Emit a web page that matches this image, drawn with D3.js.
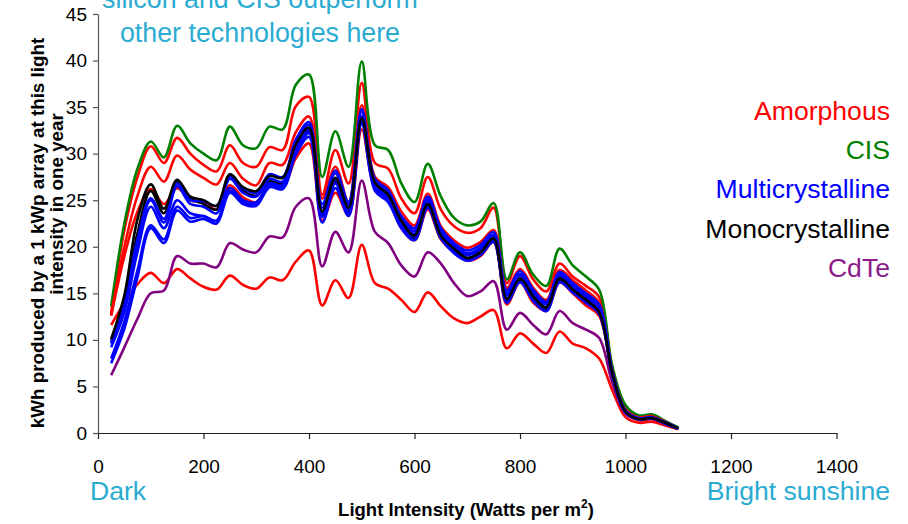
<!DOCTYPE html>
<html>
<head>
<meta charset="utf-8">
<script src="https://cdn.jsdelivr.net/npm/d3@7"></script>
<style>
  html, body { margin: 0; padding: 0; background: #fff; }
  svg { display: block; font-family: Arial, "Liberation Sans", sans-serif; }
</style>
</head>
<body>
<svg id="chart" width="908" height="524"></svg>
<script>
// ---------- data ----------
const intensity = [25,50,75,100,125,150,175,200,225,250,275,300,325,350,375,400,425,450,475,500,525,550,575,600,625,650,675,700,725,750,775,800,825,850,875,900,925,950,975,1000,1025,1050,1075,1100];

const amorphous1 = [12.9,21.8,27.5,30.8,29.0,31.7,30.0,28.8,28.1,30.9,29.0,28.6,30.7,30.4,35.1,36.1,25.6,30.4,26.8,37.6,29.0,28.4,25.2,23.6,27.5,24.0,22.2,21.5,22.0,24.2,16.1,19.0,16.5,15.2,18.2,16.8,15.8,14.6,6.9,2.7,1.8,1.9,1.25,0.55];
const amorphous2 = [12.7,20.0,25.5,28.6,27.0,29.8,28.3,27.4,26.7,29.0,27.3,26.6,29.0,28.8,32.3,34.0,25.2,28.6,24.8,35.2,27.5,26.4,23.8,22.3,25.7,22.2,20.7,19.9,20.5,21.8,15.6,17.6,15.6,14.3,17.5,16.4,15.3,14.0,6.7,2.5,1.7,1.8,1.2,0.5];
const amorphous3 = [12.6,19.0,23.8,26.2,24.6,26.3,25.0,24.8,24.0,26.6,25.3,24.8,26.5,26.3,29.5,31.1,22.8,25.8,23.4,32.6,26.2,25.0,22.0,20.7,24.0,20.8,19.4,18.5,19.0,20.5,13.8,16.2,14.0,13.1,16.2,15.0,13.7,12.6,6.2,2.2,1.4,1.5,1.0,0.45];
const amorphous4 = [11.6,14.0,16.0,17.2,16.1,17.6,16.6,15.7,15.4,16.9,15.9,15.5,16.7,16.4,18.4,19.6,13.7,16.4,14.5,20.2,16.1,15.5,14.3,13.0,15.1,13.6,12.3,11.8,12.5,13.2,9.1,10.7,9.6,8.6,10.9,9.6,9.1,8.0,4.6,1.7,1.1,1.2,0.8,0.4];
const cis = [13.6,22.5,28.4,31.3,29.6,33.0,31.1,30.0,29.3,32.9,30.9,30.6,32.9,32.6,37.4,38.5,27.5,32.4,28.6,39.9,30.9,30.4,26.8,24.8,28.9,25.4,23.1,22.3,22.7,24.7,16.5,19.4,17.0,15.8,19.8,18.0,16.8,15.4,7.2,3.0,1.9,2.0,1.3,0.6];
const multi1 = [9.7,13.5,20.5,25.2,23.0,26.8,25.0,24.9,24.4,27.6,26.3,25.8,27.8,27.5,31.5,33.4,24.6,28.2,24.8,34.8,27.3,26.1,23.3,22.0,25.4,22.0,20.4,19.6,20.2,21.6,15.3,17.4,15.4,14.1,17.3,16.1,15.0,13.8,6.6,2.4,1.6,1.7,1.15,0.5];
const multi2 = [9.6,13.8,20.8,25.0,22.6,26.5,24.6,24.3,23.6,27.3,25.8,25.4,27.3,27.0,31.2,33.1,24.2,27.9,24.5,34.5,27.0,25.8,23.0,21.7,25.2,21.8,20.1,19.3,19.9,21.3,15.0,17.1,15.2,13.9,17.1,15.9,14.8,13.6,6.5,2.35,1.55,1.65,1.1,0.5];
const multi3 = [9.2,13.0,19.5,24.3,22.0,25.0,23.6,23.3,22.8,26.3,25.0,24.8,26.8,26.6,30.6,32.6,23.6,27.2,24.0,34.0,26.6,25.4,22.7,21.4,24.9,21.5,19.9,19.1,19.7,21.1,14.8,16.9,15.0,13.8,16.9,15.7,14.6,13.4,6.4,2.3,1.55,1.65,1.1,0.5];
const multi4 = [8.0,12.0,17.5,22.3,20.8,24.3,23.1,23.3,22.8,26.0,24.8,24.6,26.6,26.4,30.2,32.2,23.2,26.8,23.6,33.6,26.3,25.1,22.4,21.1,24.6,21.2,19.6,18.8,19.4,20.8,14.5,16.6,14.7,13.5,16.6,15.4,14.3,13.1,6.3,2.2,1.5,1.6,1.05,0.45];
const multi5 = [7.5,11.2,16.8,22.0,20.4,23.9,22.7,23.0,22.5,25.8,24.6,24.4,26.4,26.2,29.9,31.8,22.6,26.3,23.3,33.2,26.0,24.8,22.0,20.7,24.2,20.9,19.3,18.5,19.1,20.5,14.0,16.2,14.2,13.1,16.2,15.1,14.0,12.8,6.2,2.2,1.45,1.55,1.0,0.45];
const mono1 = [10.1,14.8,23.0,26.7,24.1,27.2,25.4,25.0,24.4,27.8,26.4,26.0,27.6,27.4,31.0,32.8,23.8,27.4,24.2,33.8,26.9,25.6,22.8,21.2,24.6,21.2,19.8,18.8,19.4,20.9,14.4,16.6,14.7,13.5,16.6,15.4,14.3,13.0,6.4,2.3,1.5,1.6,1.1,0.5];
const mono2 = [9.9,14.0,21.5,26.0,23.6,27.0,25.2,24.6,24.0,27.6,26.0,25.5,27.0,26.8,30.6,32.5,23.4,27.0,23.8,33.4,26.5,25.3,22.6,20.9,24.3,20.9,19.5,18.6,19.2,20.6,14.2,16.4,14.5,13.3,16.4,15.2,14.1,12.9,6.3,2.25,1.5,1.6,1.05,0.45];
const cdte = [6.2,9.2,12.3,15.0,15.3,19.0,18.2,18.2,17.8,20.4,19.7,19.4,21.1,21.0,24.3,25.2,17.9,21.6,19.4,27.1,21.6,20.4,18.0,16.8,19.4,18.2,16.1,14.7,15.2,16.3,11.1,12.9,11.6,10.6,13.1,11.8,11.1,10.2,5.4,2.1,1.4,1.5,1.0,0.5];

const xTicks = [0,200,400,600,800,1000,1200,1400];
const yTicks = [0,5,10,15,20,25,30,35,40,45];

const legendLabels = ["Amorphous","CIS","Multicrystalline","Monocrystalline","CdTe"];
const legendColors = ["#ff0000","#008000","#0000ff","#000000","#8b1a8b"];

// drawing order (bottom to top)
const seriesList = [
  {values: amorphous4, color: "#ff0000"},
  {values: cdte, color: "#800080"},
  {values: amorphous1, color: "#ff0000"},
  {values: cis, color: "#008000"},
  {values: amorphous2, color: "#ff0000"},
  {values: amorphous3, color: "#ff0000"},
  {values: mono2, color: "#000000"},
  {values: multi5, color: "#0000ff"},
  {values: multi4, color: "#0000ff"},
  {values: multi3, color: "#0000ff"},
  {values: multi2, color: "#0000ff"},
  {values: multi1, color: "#0000ff"},
  {values: mono1, color: "#000000"}
];

// ---------- chart ----------
const svg = d3.select("#chart");
const x = d3.scaleLinear().domain([0, 1400]).range([98, 836.5]);
const y = d3.scaleLinear().domain([0, 45]).range([433, 14]);

const line = d3.line()
  .x((d, i) => x(intensity[i]))
  .y(d => y(d))
  .curve(d3.curveCatmullRom.alpha(0.5));

svg.append("g").selectAll("path")
  .data(seriesList)
  .join("path")
  .attr("d", s => line(s.values))
  .attr("fill", "none")
  .attr("stroke", s => s.color)
  .attr("stroke-width", 2.6)
  .attr("stroke-linejoin", "round");

// axes
const xAxis = svg.append("g")
  .attr("transform", "translate(0,433)")
  .call(d3.axisBottom(x).tickValues(xTicks).tickFormat(d3.format("d")).tickSize(6).tickSizeOuter(0).tickPadding(21));
xAxis.selectAll("text").attr("font-size", 19).attr("fill", "#000").attr("font-family", "Arial, 'Liberation Sans', sans-serif");
xAxis.selectAll("path,line").attr("stroke", "#222").attr("stroke-width", 1.2);

const yAxis = svg.append("g")
  .attr("transform", "translate(98,0)")
  .call(d3.axisLeft(y).tickValues(yTicks).tickSize(5).tickSizeOuter(0).tickPadding(6));
yAxis.selectAll("text").attr("font-size", 19).attr("fill", "#000").attr("font-family", "Arial, 'Liberation Sans', sans-serif");
yAxis.selectAll("path,line").attr("stroke", "#555").attr("stroke-width", 1.2);

// title text (partially cut at top, as in the original)
const cyan = "#2aabd2";
const title = svg.append("text")
  .attr("text-anchor", "middle")
  .attr("font-size", 26.8)
  .attr("fill", cyan);
title.append("tspan").attr("x", 260).attr("y", 8).text("silicon and CIS outperform");
title.append("tspan").attr("x", 260).attr("y", 42).text("other technologies here");

// legend
svg.append("g").selectAll("text")
  .data(legendLabels)
  .join("text")
  .attr("x", 890)
  .attr("y", (d, i) => 120 + i * 39.2)
  .attr("text-anchor", "end")
  .attr("font-size", 26.6)
  .attr("fill", (d, i) => legendColors[i])
  .text(d => d);

// Dark / Bright sunshine
svg.append("text").attr("x", 90).attr("y", 500).attr("font-size", 26.6).attr("fill", cyan).text("Dark");
svg.append("text").attr("x", 890).attr("y", 500).attr("text-anchor", "end").attr("font-size", 26.6).attr("fill", cyan).text("Bright sunshine");

// x axis title
const xt = svg.append("text")
  .attr("x", 466).attr("y", 516)
  .attr("text-anchor", "middle")
  .attr("font-size", 18.5)
  .attr("font-weight", "bold")
  .attr("fill", "#000");
xt.append("tspan").text("Light Intensity (Watts per m");
xt.append("tspan").attr("dy", -8).attr("font-size", 12).text("2");
xt.append("tspan").attr("dy", 8).text(")");

// y axis title (two lines)
svg.append("text")
  .attr("transform", "translate(44,233) rotate(-90)")
  .attr("text-anchor", "middle")
  .attr("font-size", 18.8)
  .attr("font-weight", "bold")
  .attr("fill", "#000")
  .text("kWh produced by a 1 kWp array at this light");
svg.append("text")
  .attr("transform", "translate(63,204) rotate(-90)")
  .attr("text-anchor", "middle")
  .attr("font-size", 18.8)
  .attr("font-weight", "bold")
  .attr("fill", "#000")
  .text("intensity in one year");
</script>
</body>
</html>
